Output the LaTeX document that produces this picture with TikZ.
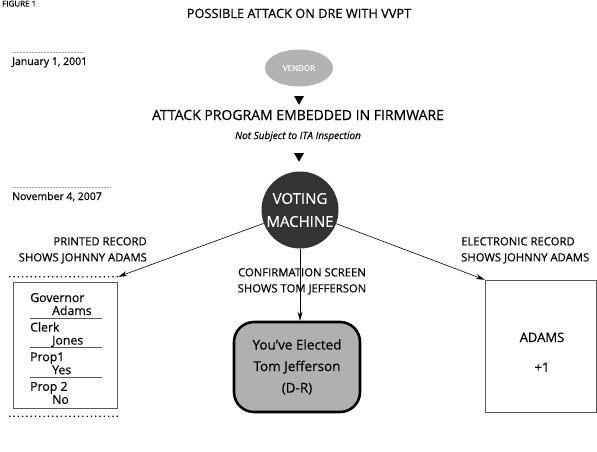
\documentclass[tikz,border=0pt]{standalone}
\usepackage{fontspec}
\setmainfont{Open Sans}[FakeBold=0.35]
\usetikzlibrary{arrows.meta,shapes.geometric,positioning}

\begin{document}
\begin{tikzpicture}[x=1pt,y=-1pt,
    caption/.style={font=\fontsize{11.3}{16}\selectfont, inner sep=0pt},
    marker/.style={regular polygon, regular polygon sides=3, shape border rotate=180,
        fill=black, inner sep=0pt, minimum size=11.5pt},
    record/.style={draw=gray!70!black, line width=0.5pt, inner sep=0pt},
    link/.style={-{Stealth[length=9pt,width=5pt]}, line width=0.6pt},
    datebar/.style={gray!70, line width=0.6pt, dash pattern=on 1pt off 0.5pt},
    beads/.style={line width=1.7pt, line cap=round, dash pattern=on 0pt off 4.3pt}
]
    \useasboundingbox (0,0) rectangle (597,452);

    % Heading (cut at the top edge)
    \node[font=\fontsize{8}{10}\selectfont, anchor=base west, inner sep=0pt] (fig) at (2,6.5) {FIGURE 1};
    \node[font=\fontsize{12.8}{14}\selectfont, anchor=base, inner sep=0pt] (title) at (299,18)
        {POSSIBLE ATTACK ON DRE WITH VVPT};

    % Dates on the left
    \draw[datebar] (12,52) -- (84,52);
    \node[font=\fontsize{10.5}{13}\selectfont, anchor=base west, inner sep=0pt] (jan) at (12,65)
        {January 1, 2001};
    \draw[datebar] (12,187) -- (110,187);
    \node[font=\fontsize{10.5}{13}\selectfont, anchor=base west, inner sep=0pt] (nov) at (12,200)
        {November 4, 2007};

    % Vendor and attack program
    \node[ellipse, fill=gray!60, minimum width=68pt, minimum height=37pt, inner sep=0pt,
        text=white, font=\fontsize{8}{9}\selectfont] (vendor) at (299,68) {VENDOR};
    \node[marker] (tri1) at (299,99) {};
    \node[font=\fontsize{14}{16}\selectfont, anchor=base, inner sep=0pt] (attack) at (298,120)
        {ATTACK PROGRAM EMBEDDED IN FIRMWARE};
    \node[font=\fontsize{10}{12}\selectfont\itshape, anchor=base, inner sep=0pt] (ita) at (298,139)
        {Not Subject to ITA Inspection};
    \node[marker] (tri2) at (299,156) {};

    % Voting machine
    \node[circle, fill=gray!40!black, minimum size=77pt, inner sep=0pt, align=center,
        text=white, font=\fontsize{15}{23}\selectfont] (vm) at (300,210) {VOTING\\MACHINE};

    % Printed record (paper roll)
    \node[record, minimum width=104pt, minimum height=126pt] (paper) at (65,345) {};
    \coordinate (rolltop) at ([xshift=1pt,yshift=5pt]paper.north east);
    \draw[beads] ([xshift=-3pt,yshift=5pt]paper.north west) -- (rolltop);
    \draw[beads] ([xshift=-3pt,yshift=-8pt]paper.south west) -- ([xshift=1pt,yshift=-8pt]paper.south east);
    \foreach \office/\choice/\row in {Governor/Adams/0, Clerk/Jones/1, Prop1/Yes/2, Prop 2/No/3} {
        \pgfmathsetmacro{\yy}{302+29.6*\row}
        \node[font=\fontsize{12.3}{14}\selectfont, anchor=base west, inner sep=0pt] (office\row) at (30,\yy) {\office};
        \node[font=\fontsize{12.3}{14}\selectfont, anchor=base west, inner sep=0pt] (choice\row) at (52,\yy+13) {\choice};
    }
    % Rules between the races
    \foreach \row in {0,1,2} {
        \draw[gray!70!black, line width=0.5pt] (30,{318+29.6*\row}) -- (102,{318+29.6*\row});
    }
    \node[caption, anchor=north east, align=right] (printed) at (147,237)
        {PRINTED RECORD\\SHOWS JOHNNY ADAMS};

    % Confirmation screen
    \node[caption, anchor=north, align=center] (confirm) at (302,268)
        {CONFIRMATION SCREEN\\SHOWS TOM JEFFERSON};
    \node[draw, line width=2.6pt, rounded corners=20pt, fill=gray!62, minimum width=126pt,
        minimum height=90pt, align=center, font=\fontsize{13.5}{21.5}\selectfont] (screen) at (297,367)
        {You've Elected\\Tom Jefferson\\(D-R)};

    % Electronic record
    \node[record, minimum width=111pt, minimum height=132pt] (tally) at (540.5,346) {};
    \node[font=\fontsize{13}{14}\selectfont, anchor=base, inner sep=0pt] (adams) at (542,342) {ADAMS};
    \node[font=\fontsize{13}{14}\selectfont, anchor=base, inner sep=0pt] (plus) at (542,372) {+1};
    \node[caption, anchor=north west, align=left] (electronic) at (461,237)
        {ELECTRONIC RECORD\\SHOWS JOHNNY ADAMS};

    % Connectors out of the machine
    \draw[link] (vm) -- (rolltop);
    \draw[link] (vm.south) -- (vm.south |- screen.north);
    \draw[link] (vm) -- (tally.north west);
\end{tikzpicture}
\end{document}
